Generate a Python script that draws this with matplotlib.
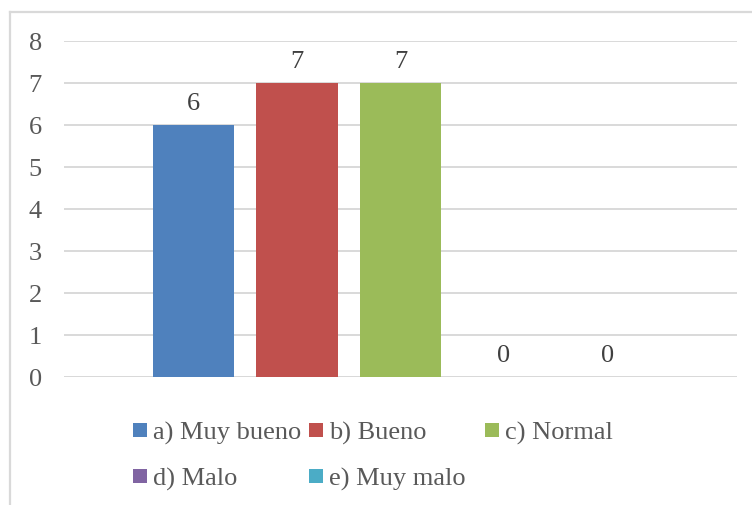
import matplotlib
matplotlib.use("Agg")
import matplotlib.pyplot as plt
from matplotlib.patches import Rectangle
from matplotlib.lines import Line2D

categories = ["a) Muy bueno", "b) Bueno", "c) Normal", "d) Malo", "e) Muy malo"]
values = [6, 7, 7, 0, 0]
colours = ["#4F81BD", "#C0504D", "#9BBB59", "#8064A2", "#4BACC6"]
y_ticks = list(range(0, 9))

TEXT = "#595959"
GRID = "#D9D9D9"
W, H = 752, 506

plt.rcParams["font.family"] = ["Liberation Serif", "DejaVu Serif"]
plt.rcParams["font.size"] = 19

fig = plt.figure(figsize=(W / 100, H / 100), dpi=100)
ax = fig.add_axes([64 / W, 128 / H, 673 / W, 336 / H])

# outer chart frame (only top and left edges are visible)
fig.add_artist(Line2D([10 / W, 10 / W], [0, 1 - 13 / H], transform=fig.transFigure,
                      color=GRID, lw=1.6))
fig.add_artist(Line2D([10 / W, 1], [1 - 13 / H, 1 - 13 / H], transform=fig.transFigure,
                      color=GRID, lw=1.6))

positions = [i - 2 for i in range(len(values))]
bars = ax.bar(positions, values, width=0.79, color=colours, zorder=3)
for x, v in zip(positions, values):
    ax.annotate(str(v), xy=(x, v), xytext=(0, 11.5), textcoords="offset points",
                ha="center", va="baseline", color="#404040", zorder=4)

ax.set_xlim(-3.25, 3.25)
ax.set_ylim(0, 8)
ax.set_yticks(y_ticks)
ax.set_xticks([])
ax.tick_params(axis="y", length=0, pad=16, colors=TEXT, labelsize=19)
ax.yaxis.grid(True, color=GRID, lw=1.4, zorder=0)
for s in ax.spines.values():
    s.set_visible(False)
ax.axhline(0, color=GRID, lw=1.4, zorder=2)

# legend laid out in equal-width columns
col_x = [133, 309, 485]
row_y = [431, 477]
for i, (name, c) in enumerate(zip(categories, colours)):
    cx = col_x[i % 3]
    cy = row_y[i // 3]
    fig.add_artist(Rectangle((cx / W, 1 - (cy + 7) / H), 14 / W, 14 / H,
                             transform=fig.transFigure, color=c, lw=0))
    fig.text((cx + 20) / W, 1 - (cy + 8.5) / H, name, color=TEXT,
             ha="left", va="baseline", fontsize=19)

fig.savefig("out.png", dpi=100, facecolor="white")
